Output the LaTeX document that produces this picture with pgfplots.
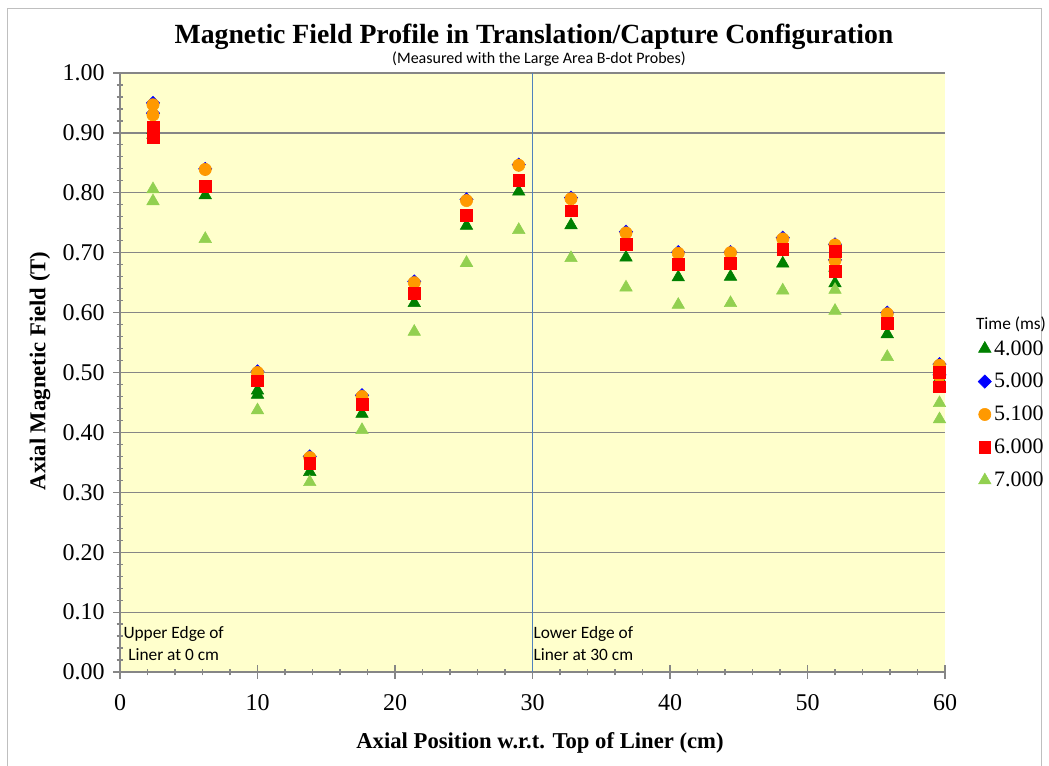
\documentclass[border=0pt]{standalone}
\usepackage{fontspec}
\setmainfont{Liberation Serif}
\newfontfamily\calibri{Carlito}
\usepackage{pgfplots}
\pgfplotsset{compat=1.18}
\definecolor{bgyellow}{RGB}{255,255,204}
\definecolor{dkgreen}{RGB}{0,128,0}
\definecolor{ltgreen}{RGB}{146,208,80}
\definecolor{myorange}{RGB}{255,153,0}
\definecolor{myblue}{RGB}{0,0,255}
\definecolor{myred}{RGB}{255,0,0}
\definecolor{gridgray}{RGB}{134,134,134}
\definecolor{vline}{RGB}{79,129,189}
\begin{document}
\begin{tikzpicture}[x=0.75pt,y=-0.75pt]
\useasboundingbox (0,0) rectangle (1049,765);
\draw[gray!50, line width=0.75pt] (7,775) -- (7,8) -- (1041,8) -- (1041,775);
\begin{axis}[
  at={(90pt,-504pt)}, anchor=south west,
  scale only axis, width=618.75pt, height=449.25pt,
  xmin=0, xmax=60, ymin=0, ymax=1,
  axis background/.style={fill=bgyellow},
  axis x line*=bottom, axis y line*=left,
  axis line style={gridgray, line width=0.9pt},
  xtick={0,10,...,60}, ytick={0,0.1,...,1.0},
  minor x tick num=4, minor y tick num=4,
  ymajorgrids, major grid style={gridgray, line width=0.9pt},
  tick style={gridgray, line width=0.9pt},
  tick align=center, major tick length=10pt, minor tick length=5pt,
  /pgf/number format/assume math mode=true,
  ticklabel style={font=\fontsize{18}{20}\selectfont},
  yticklabel style={xshift=-3pt, /pgf/number format/.cd, fixed, fixed zerofill, precision=2},
  xticklabel style={yshift=-8pt, /pgf/number format/.cd, fixed, precision=0},
  clip=true,
  legend style={at={(1.035,0.563)}, anchor=north west, draw=none, fill=none,
     font=\fontsize{16.5}{18}\selectfont, row sep=8.2pt, cells={anchor=west}},
]
\addplot[only marks, mark=triangle*, mark size=5.4pt, draw=dkgreen, fill=dkgreen] coordinates {
(2.4,0.897) (2.4,0.905) (6.2,0.796) (10.0,0.470) (10.0,0.463) (13.8,0.334) (17.6,0.431)
(21.4,0.616) (25.2,0.745) (29.0,0.802) (32.8,0.746) (36.8,0.692) (40.6,0.659)
(44.4,0.660) (48.2,0.682) (52.0,0.649) (52.0,0.675) (55.8,0.564) (59.6,0.474) (59.6,0.490)};
\addlegendentry{4.000}
\addplot[only marks, mark=diamond*, mark size=5pt, mark options={xscale=1.33}, draw=myblue, fill=myblue] coordinates {
(2.4,0.950) (2.4,0.933) (6.2,0.840) (10.0,0.502) (13.8,0.360) (17.6,0.462)
(21.4,0.652) (25.2,0.789) (29.0,0.847) (32.8,0.792) (36.8,0.735) (40.6,0.701)
(44.4,0.701) (48.2,0.725) (52.0,0.714) (52.0,0.688) (55.8,0.600) (59.6,0.514) (59.6,0.496)};
\addlegendentry{5.000}
\addplot[only marks, mark=*, mark size=4.6pt, draw=myorange, fill=myorange] coordinates {
(2.4,0.947) (2.4,0.930) (6.2,0.839) (10.0,0.500) (13.8,0.358) (17.6,0.460)
(21.4,0.650) (25.2,0.787) (29.0,0.846) (32.8,0.790) (36.8,0.733) (40.6,0.699)
(44.4,0.700) (48.2,0.723) (52.0,0.713) (52.0,0.687) (55.8,0.598) (59.6,0.512) (59.6,0.494)};
\addlegendentry{5.100}
\addplot[only marks, mark=square*, mark size=4.4pt, draw=myred, fill=myred] coordinates {
(2.4,0.910) (2.4,0.892) (6.2,0.811) (10.0,0.486) (13.8,0.349) (17.6,0.447)
(21.4,0.632) (25.2,0.763) (29.0,0.821) (32.8,0.770) (36.8,0.714) (40.6,0.681)
(44.4,0.682) (48.2,0.706) (52.0,0.702) (52.0,0.669) (55.8,0.582) (59.6,0.500) (59.6,0.476)};
\addlegendentry{6.000}
\addplot[only marks, mark=triangle*, mark size=5.4pt, draw=ltgreen, fill=ltgreen] coordinates {
(2.4,0.806) (2.4,0.786) (6.2,0.723) (10.0,0.437) (13.8,0.317) (17.6,0.404)
(21.4,0.568) (25.2,0.683) (29.0,0.738) (32.8,0.691) (36.8,0.642) (40.6,0.613)
(44.4,0.616) (48.2,0.637) (52.0,0.638) (52.0,0.603) (55.8,0.526) (59.6,0.449) (59.6,0.422)};
\addlegendentry{7.000}
\draw[vline, line width=0.8pt] (axis cs:30,0) -- (axis cs:30,1);
\node[font=\calibri\fontsize{13}{16.5}\selectfont, align=center, inner sep=0pt] at (axis cs:3.9,0.047) {Upper Edge of\\Liner at 0 cm};
\node[font=\calibri\fontsize{13}{16.5}\selectfont, align=center, inner sep=0pt] at (axis cs:33.7,0.047) {Lower Edge of\\Liner at 30 cm};
\end{axis}
\node[font=\bfseries\fontsize{20.8}{22}\selectfont] at (534,37) {Magnetic Field Profile in Translation/Capture Configuration};
\node[font=\calibri\fontsize{12}{14}\selectfont] at (539,59) {(Measured with the Large Area B-dot Probes)};
\node[font=\calibri\fontsize{13}{15}\selectfont] at (1011,324) {Time (ms)};
\node[font=\bfseries\fontsize{17}{19}\selectfont, rotate=90] at (40,371) {Axial Magnetic Field (T)};
\node[font=\bfseries\fontsize{17}{19}\selectfont] at (540,743) {Axial Position w.r.t. Top of Liner (cm)};
\end{tikzpicture}
\end{document}
